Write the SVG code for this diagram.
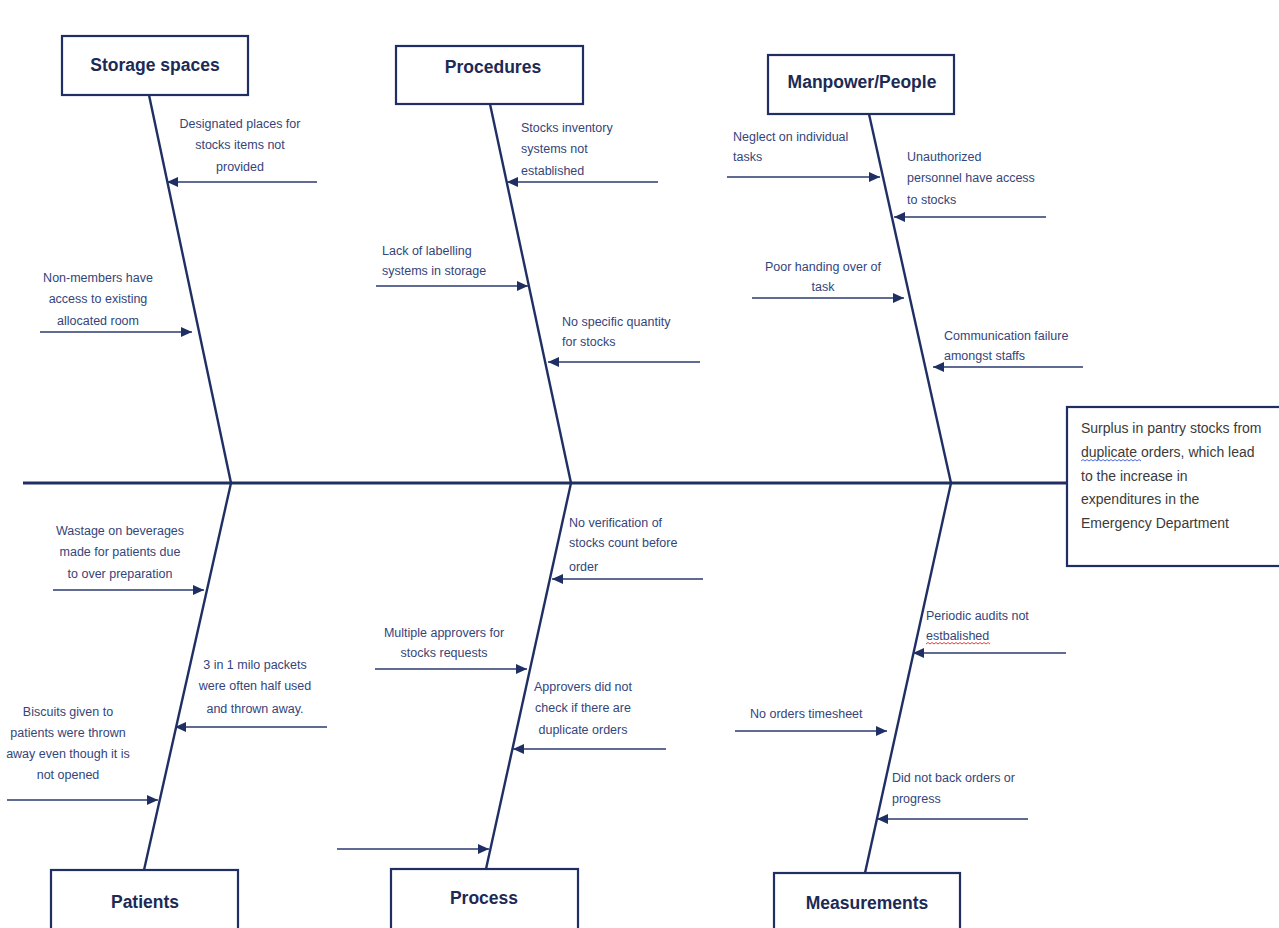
<svg xmlns="http://www.w3.org/2000/svg" width="1279" height="928" viewBox="0 0 1279 928">
<style>
  .box { fill: #ffffff; stroke: #1f2f63; stroke-width: 2.2; }
  .title { font-family: "Liberation Sans", Arial, sans-serif; font-weight: bold; font-size: 17.5px; fill: #1c2a55; text-anchor: middle; }
  .lbl { font-family: "Liberation Sans", Arial, sans-serif; font-size: 12.5px; fill: #34457a; }
  .mid { text-anchor: middle; }
  .eff { font-family: "Liberation Sans", Arial, sans-serif; font-size: 14px; fill: #3a3a3a; }
  .spine { stroke: #1f2f63; stroke-width: 3; fill: none; }
  .bone { stroke: #1f2f63; stroke-width: 2.4; fill: none; }
  .arr { stroke: #2a3a6e; stroke-width: 1.6; fill: none; marker-end: url(#ah); }
  .wavy { fill: none; stroke-width: 0.9; }
</style>
<defs>
  <marker id="ah" markerUnits="userSpaceOnUse" markerWidth="11" markerHeight="10" refX="11" refY="5" orient="auto">
    <path d="M0,0 L11,5 L0,10 z" fill="#1f2f63"/>
  </marker>
</defs>
<rect width="1279" height="928" fill="#ffffff"/>

<g id="connectors">
  <line class="spine" x1="23" y1="483" x2="1068" y2="483"/>
  <line class="bone" x1="149" y1="95" x2="231" y2="483"/>
  <line class="bone" x1="490" y1="104" x2="571" y2="483"/>
  <line class="bone" x1="869" y1="114" x2="951" y2="483"/>
  <line class="bone" x1="231" y1="483" x2="144" y2="870"/>
  <line class="bone" x1="571" y1="483" x2="486" y2="869"/>
  <line class="bone" x1="951" y1="483" x2="865" y2="873"/>

  <line class="arr" x1="317" y1="182" x2="167" y2="182"/>
  <line class="arr" x1="40" y1="332" x2="192" y2="332"/>
  <line class="arr" x1="658" y1="182" x2="507" y2="182"/>
  <line class="arr" x1="376" y1="286" x2="528" y2="286"/>
  <line class="arr" x1="700" y1="362" x2="548" y2="362"/>
  <line class="arr" x1="727" y1="177" x2="880" y2="177"/>
  <line class="arr" x1="1046" y1="217" x2="894" y2="217"/>
  <line class="arr" x1="752" y1="298" x2="904" y2="298"/>
  <line class="arr" x1="1083" y1="367" x2="933" y2="367"/>
  <line class="arr" x1="53" y1="590" x2="204" y2="590"/>
  <line class="arr" x1="327" y1="727" x2="175" y2="727"/>
  <line class="arr" x1="7" y1="800" x2="158" y2="800"/>
  <line class="arr" x1="703" y1="579" x2="552" y2="579"/>
  <line class="arr" x1="375" y1="669" x2="527" y2="669"/>
  <line class="arr" x1="666" y1="749" x2="513" y2="749"/>
  <line class="arr" x1="337" y1="849" x2="489" y2="849"/>
  <line class="arr" x1="1066" y1="653" x2="913" y2="653"/>
  <line class="arr" x1="735" y1="731" x2="887" y2="731"/>
  <line class="arr" x1="1028" y1="819" x2="877" y2="819"/>
</g>

<g id="storage-spaces">
  <rect class="box" x="62" y="36" width="186" height="59"/>
  <text class="title" x="155" y="71">Storage spaces</text>
  <text class="lbl mid" x="240" y="128">Designated places for</text>
  <text class="lbl mid" x="240" y="149">stocks items not</text>
  <text class="lbl mid" x="240" y="171">provided</text>
  <text class="lbl mid" x="98" y="282">Non-members have</text>
  <text class="lbl mid" x="98" y="303">access to existing</text>
  <text class="lbl mid" x="98" y="325">allocated room</text>
</g>

<g id="procedures">
  <rect class="box" x="396" y="46" width="187" height="58"/>
  <text class="title" x="493" y="73">Procedures</text>
  <text class="lbl" x="521" y="132">Stocks inventory</text>
  <text class="lbl" x="521" y="153">systems not</text>
  <text class="lbl" x="521" y="175">established</text>
  <text class="lbl" x="382" y="255">Lack of labelling</text>
  <text class="lbl" x="382" y="275">systems in storage</text>
  <text class="lbl" x="562" y="326">No specific quantity</text>
  <text class="lbl" x="562" y="346">for stocks</text>
</g>

<g id="manpower-people">
  <rect class="box" x="768" y="55" width="186" height="59"/>
  <text class="title" x="862" y="88">Manpower/People</text>
  <text class="lbl" x="733" y="141">Neglect on individual</text>
  <text class="lbl" x="733" y="161">tasks</text>
  <text class="lbl" x="907" y="161">Unauthorized</text>
  <text class="lbl" x="907" y="182">personnel have access</text>
  <text class="lbl" x="907" y="204">to stocks</text>
  <text class="lbl mid" x="823" y="271">Poor handing over of</text>
  <text class="lbl mid" x="823" y="291">task</text>
  <text class="lbl" x="944" y="340">Communication failure</text>
  <text class="lbl" x="944" y="360">amongst staffs</text>
</g>

<g id="effect">
  <rect class="box" x="1067" y="407" width="230" height="159"/>
  <text class="eff" x="1081" y="433">Surplus in pantry stocks from</text>
  <text class="eff" x="1081" y="457">duplicate orders, which lead</text>
  <text class="eff" x="1081" y="481">to the increase in</text>
  <text class="eff" x="1081" y="504">expenditures in the</text>
  <text class="eff" x="1081" y="528">Emergency Department</text>
  <path class="wavy" stroke="#3b5bd6" d="M1081,461 l2,-1.5 l2,1.5 l2,-1.5 l2,1.5 l2,-1.5 l2,1.5 l2,-1.5 l2,1.5 l2,-1.5 l2,1.5 l2,-1.5 l2,1.5 l2,-1.5 l2,1.5 l2,-1.5 l2,1.5 l2,-1.5 l2,1.5 l2,-1.5 l2,1.5 l2,-1.5 l2,1.5 l2,-1.5 l2,1.5 l2,-1.5 l2,1.5 l2,-1.5 l2,1.5 l2,-1.5 l2,1.5"/>
</g>

<g id="patients">
  <rect class="box" x="51" y="870" width="187" height="70"/>
  <text class="title" x="145" y="908">Patients</text>
  <text class="lbl mid" x="120" y="535">Wastage on beverages</text>
  <text class="lbl mid" x="120" y="556">made for patients due</text>
  <text class="lbl mid" x="120" y="578">to over preparation</text>
  <text class="lbl mid" x="255" y="669">3 in 1 milo packets</text>
  <text class="lbl mid" x="255" y="690">were often half used</text>
  <text class="lbl mid" x="255" y="713">and thrown away.</text>
  <text class="lbl mid" x="68" y="716">Biscuits given to</text>
  <text class="lbl mid" x="68" y="737">patients were thrown</text>
  <text class="lbl mid" x="68" y="758">away even though it is</text>
  <text class="lbl mid" x="68" y="779">not opened</text>
</g>

<g id="process">
  <rect class="box" x="391" y="869" width="187" height="70"/>
  <text class="title" x="484" y="904">Process</text>
  <text class="lbl" x="569" y="527">No verification of</text>
  <text class="lbl" x="569" y="547">stocks count before</text>
  <text class="lbl" x="569" y="571">order</text>
  <text class="lbl mid" x="444" y="637">Multiple approvers for</text>
  <text class="lbl mid" x="444" y="657">stocks requests</text>
  <text class="lbl mid" x="583" y="691">Approvers did not</text>
  <text class="lbl mid" x="583" y="712">check if there are</text>
  <text class="lbl mid" x="583" y="734">duplicate orders</text>
</g>

<g id="measurements">
  <rect class="box" x="774" y="873" width="186" height="70"/>
  <text class="title" x="867" y="909">Measurements</text>
  <text class="lbl" x="926" y="620">Periodic audits not</text>
  <text class="lbl" x="926" y="640">estbalished</text>
  <path class="wavy" stroke="#e03030" d="M926,644 l2,-1.5 l2,1.5 l2,-1.5 l2,1.5 l2,-1.5 l2,1.5 l2,-1.5 l2,1.5 l2,-1.5 l2,1.5 l2,-1.5 l2,1.5 l2,-1.5 l2,1.5 l2,-1.5 l2,1.5 l2,-1.5 l2,1.5 l2,-1.5 l2,1.5 l2,-1.5 l2,1.5 l2,-1.5 l2,1.5 l2,-1.5 l2,1.5 l2,-1.5 l2,1.5 l2,-1.5 l2,1.5 l2,-1.5 l2,1.5"/>
  <text class="lbl" x="750" y="718">No orders timesheet</text>
  <text class="lbl" x="892" y="782">Did not back orders or</text>
  <text class="lbl" x="892" y="803">progress</text>
</g>
</svg>
